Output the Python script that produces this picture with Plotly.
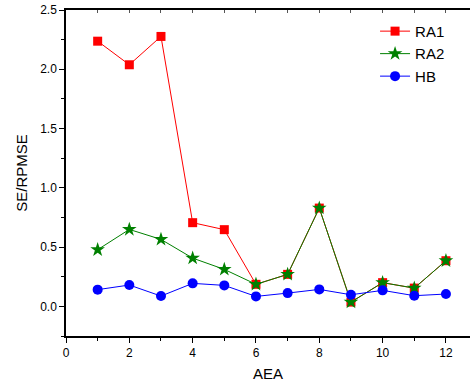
import plotly.graph_objects as go

# AEA index and the three error series
aea = [1, 2, 3, 4, 5, 6, 7, 8, 9, 10, 11, 12]
ra1 = [2.237, 2.038, 2.277, 0.706, 0.647, 0.186, 0.270, 0.829, 0.036, 0.200, 0.154, 0.385]
ra2 = [0.478, 0.649, 0.565, 0.407, 0.312, 0.186, 0.270, 0.829, 0.036, 0.200, 0.154, 0.385]
hb = [0.141, 0.180, 0.087, 0.194, 0.177, 0.084, 0.112, 0.143, 0.098, 0.135, 0.090, 0.104]

series_names = ["RA1", "RA2", "HB"]
x_ticks = [0, 2, 4, 6, 8, 10, 12]
y_ticks = [0.0, 0.5, 1.0, 1.5, 2.0, 2.5]

FONT = "Liberation Sans, Arial, sans-serif"

fig = go.Figure()
fig.add_trace(go.Scatter(
    x=aea, y=ra1, name=series_names[0], mode="lines+markers",
    line=dict(color="#ff0000", width=1),
    marker=dict(symbol="square", size=9, color="#ff0000"),
))
fig.add_trace(go.Scatter(
    x=aea, y=ra2, name=series_names[1], mode="lines+markers",
    line=dict(color="#008000", width=1),
    marker=dict(symbol="star", size=11, color="#008000"),
))
fig.add_trace(go.Scatter(
    x=aea, y=hb, name=series_names[2], mode="lines+markers",
    line=dict(color="#0000ff", width=1),
    marker=dict(symbol="circle", size=10, color="#0000ff"),
))
# invisible trace carrying the top frame axis
fig.add_trace(go.Scatter(
    x=aea, y=hb, xaxis="x2", mode="markers", showlegend=False,
    marker=dict(opacity=0), hoverinfo="skip",
))

fig.update_layout(
    width=470, height=387,
    margin=dict(l=66, r=0, t=10, b=51),
    paper_bgcolor="white", plot_bgcolor="white",
    font=dict(family=FONT, size=12, color="#000000"),
    showlegend=True,
    legend=dict(
        x=0.765, y=0.985, xanchor="left", yanchor="top",
        bgcolor="rgba(0,0,0,0)", font=dict(size=15, family=FONT),
        tracegroupgap=0, itemwidth=30,
    ),
    xaxis=dict(
        range=[0, 12.76], tickvals=x_ticks, ticks="outside", ticklen=5,
        tickwidth=1, tickcolor="black", showline=True, linecolor="black",
        linewidth=1.5, showgrid=False, zeroline=False,
        minor=dict(tickvals=[1, 3, 5, 7, 9, 11], ticks="outside",
                   ticklen=3, tickcolor="black", tickwidth=1),
        title=dict(text="AEA", font=dict(size=15, family=FONT), standoff=9),
        tickfont=dict(size=12, family=FONT),
    ),
    xaxis2=dict(
        range=[0, 12.76], overlaying="x", side="top", anchor="y",
        tickvals=list(range(1, 13)), ticks="inside", ticklen=3,
        tickcolor="#555555", showticklabels=False, showline=True,
        linecolor="black", linewidth=1.5, showgrid=False, zeroline=False,
    ),
    yaxis=dict(
        range=[-0.25, 2.5], tickvals=y_ticks, tickformat=".1f",
        ticks="outside", ticklen=5, tickwidth=1, tickcolor="black",
        showline=True, linecolor="black", linewidth=1.5,
        showgrid=False, zeroline=False,
        minor=dict(tickvals=[-0.25, 0.25, 0.75, 1.25, 1.75, 2.25],
                   ticks="outside", ticklen=3, tickcolor="black", tickwidth=1),
        title=dict(text="SE/RPMSE", font=dict(size=15, family=FONT), standoff=9),
        tickfont=dict(size=12, family=FONT),
    ),
)

fig.write_html("out.html")
